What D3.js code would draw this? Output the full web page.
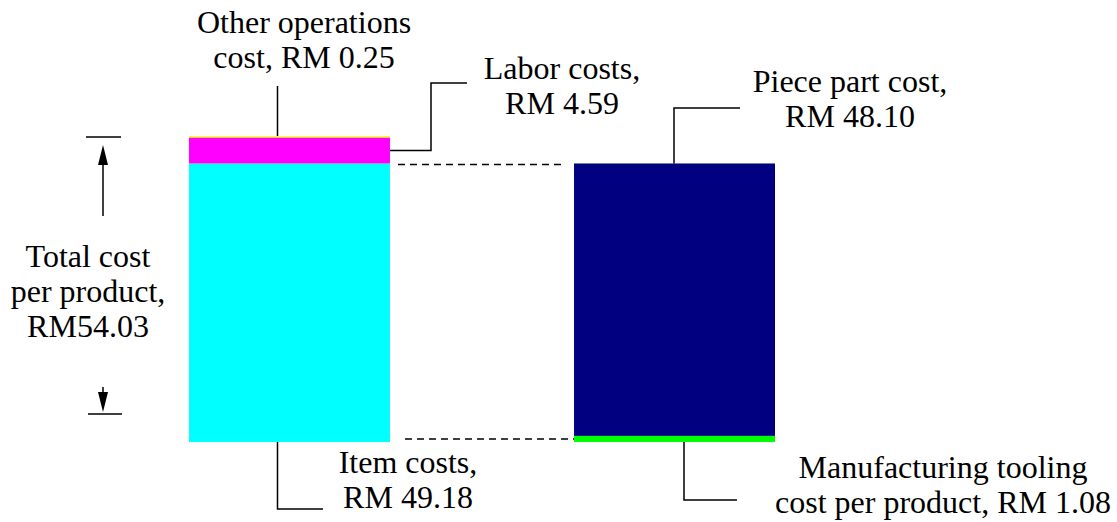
<!DOCTYPE html>
<html>
<head>
<meta charset="utf-8">
<script src="https://cdn.jsdelivr.net/npm/d3@7"></script>
<style>
  body { margin: 0; background: #fff; }
  #wrap { position: relative; width: 1117px; height: 522px; }
  #chart { position: absolute; left: 0; top: 0; }
  .leader { fill: none; stroke: #000; stroke-width: 1.5; }
  .dash { stroke: #000; stroke-width: 1.5; stroke-dasharray: 7,5; }
</style>
</head>
<body>
<div id="wrap"><svg id="chart" width="1117" height="522"></svg></div>
<script>
// data
const bars = ['Total', 'Breakdown'];
const leftParts = ['Item costs', 'Labor costs', 'Other operations cost'];
const leftValues = [49.18, 4.59, 0.25];
const leftColors = ['#00ffff', '#ff00ff', '#ffff00'];
const rightParts = ['Manufacturing tooling cost per product', 'Piece part cost'];
const rightValues = [1.08, 48.10];
const rightColors = ['#00ff00', '#000080'];
const totalCost = 54.03;

const svg = d3.select('#chart');
const wrap = d3.select('#wrap');

const x = d3.scaleBand()
  .domain(bars)
  .range([189, 775])
  .paddingInner(0.478)
  .paddingOuter(0);

const y = d3.scaleLinear()
  .domain([0, totalCost])
  .range([442, 136]);

function stack(values) {
  let acc = 0;
  return values.map(v => { const s = { y0: acc, y1: acc + v }; acc += v; return s; });
}

const leftStack = stack(leftValues);
const rightStack = stack(rightValues);

svg.append('g').selectAll('rect')
  .data(leftStack)
  .enter().append('rect')
  .attr('x', x('Total'))
  .attr('width', x.bandwidth())
  .attr('y', d => y(d.y1))
  .attr('height', d => y(d.y0) - y(d.y1))
  .attr('fill', (d, i) => leftColors[i]);

svg.append('g').selectAll('rect')
  .data(rightStack)
  .enter().append('rect')
  .attr('x', x('Breakdown'))
  .attr('width', x.bandwidth())
  .attr('y', d => y(d.y1))
  .attr('height', d => y(d.y0) - y(d.y1))
  .attr('fill', (d, i) => rightColors[i]);

const lx0 = x('Total'), lx1 = lx0 + x.bandwidth();
const rx0 = x('Breakdown'), rx1 = rx0 + x.bandwidth();
const lmid = lx0 + x.bandwidth() / 2 - 12;

// dashed guides
svg.append('line').attr('class', 'dash')
  .attr('x1', lx1 + 8).attr('x2', rx0 - 10)
  .attr('y1', y(rightStack[1].y1) + 1).attr('y2', y(rightStack[1].y1) + 1);
svg.append('line').attr('class', 'dash')
  .attr('x1', lx1 + 15).attr('x2', rx0)
  .attr('y1', y(0) - 3).attr('y2', y(0) - 3);

// leader lines
const line = d3.line();
function leader(pts) {
  svg.append('path').attr('class', 'leader').attr('d', line(pts));
}
// labels as html (x = centre, yp = first baseline)
function label(xp, yp, lines) {
  const d = wrap.append('div')
    .attr('style', "position:absolute;white-space:nowrap;text-align:center;" +
      "font-family:'Liberation Serif';font-size:32px;line-height:35px;color:#000;" +
      "transform:translateX(-50%);left:" + xp + "px;top:" + (yp - 28) + "px");
  d.html(lines.join('<br>'));
}

// other operations
leader([[lmid, y(totalCost)], [lmid, 86]]);
label(304, 33, ['Other operations', 'cost, RM 0.25']);

// labor
const laborY = (y(leftStack[1].y0) + y(leftStack[1].y1)) / 2;
leader([[lx1, laborY], [431, laborY], [431, 83], [467, 83]]);
label(562, 79, ['Labor costs,', 'RM 4.59']);

// item
leader([[lmid, y(0)], [lmid, 509], [323, 509]]);
label(408, 473, ['Item costs,', 'RM 49.18']);

// piece part
const pmid = 674;
leader([[pmid, y(rightStack[1].y1)], [pmid, 108], [740, 108]]);
label(850, 92, ['Piece part cost,', 'RM 48.10']);

// tooling
const tmid = 684;
leader([[tmid, y(0)], [tmid, 500], [737, 500]]);
label(943, 478, ['Manufacturing tooling', 'cost per product, RM 1.08']);

// total cost arrow
const ax = 103;
const topY = y(totalCost) + 1;
const botY = 414;
svg.append('line').attr('x1', 86).attr('x2', 121).attr('y1', topY).attr('y2', topY).attr('stroke', '#000').attr('stroke-width', 1.5);
svg.append('line').attr('x1', 88).attr('x2', 122).attr('y1', botY).attr('y2', botY).attr('stroke', '#000').attr('stroke-width', 1.5);
svg.append('path').attr('d', `M${ax},${topY + 8} L${ax - 5},${topY + 28} L${ax + 5},${topY + 28} Z`).attr('fill', '#000');
svg.append('line').attr('x1', ax).attr('x2', ax).attr('y1', topY + 26).attr('y2', 216).attr('stroke', '#000').attr('stroke-width', 1.5);
svg.append('path').attr('d', `M${ax},${botY - 2} L${ax - 5},${botY - 22} L${ax + 5},${botY - 22} Z`).attr('fill', '#000');
svg.append('line').attr('x1', ax).attr('x2', ax).attr('y1', 387).attr('y2', botY - 20).attr('stroke', '#000').attr('stroke-width', 1.5);
label(88, 267, ['Total cost', 'per product,', 'RM54.03']);
</script>
</body>
</html>
